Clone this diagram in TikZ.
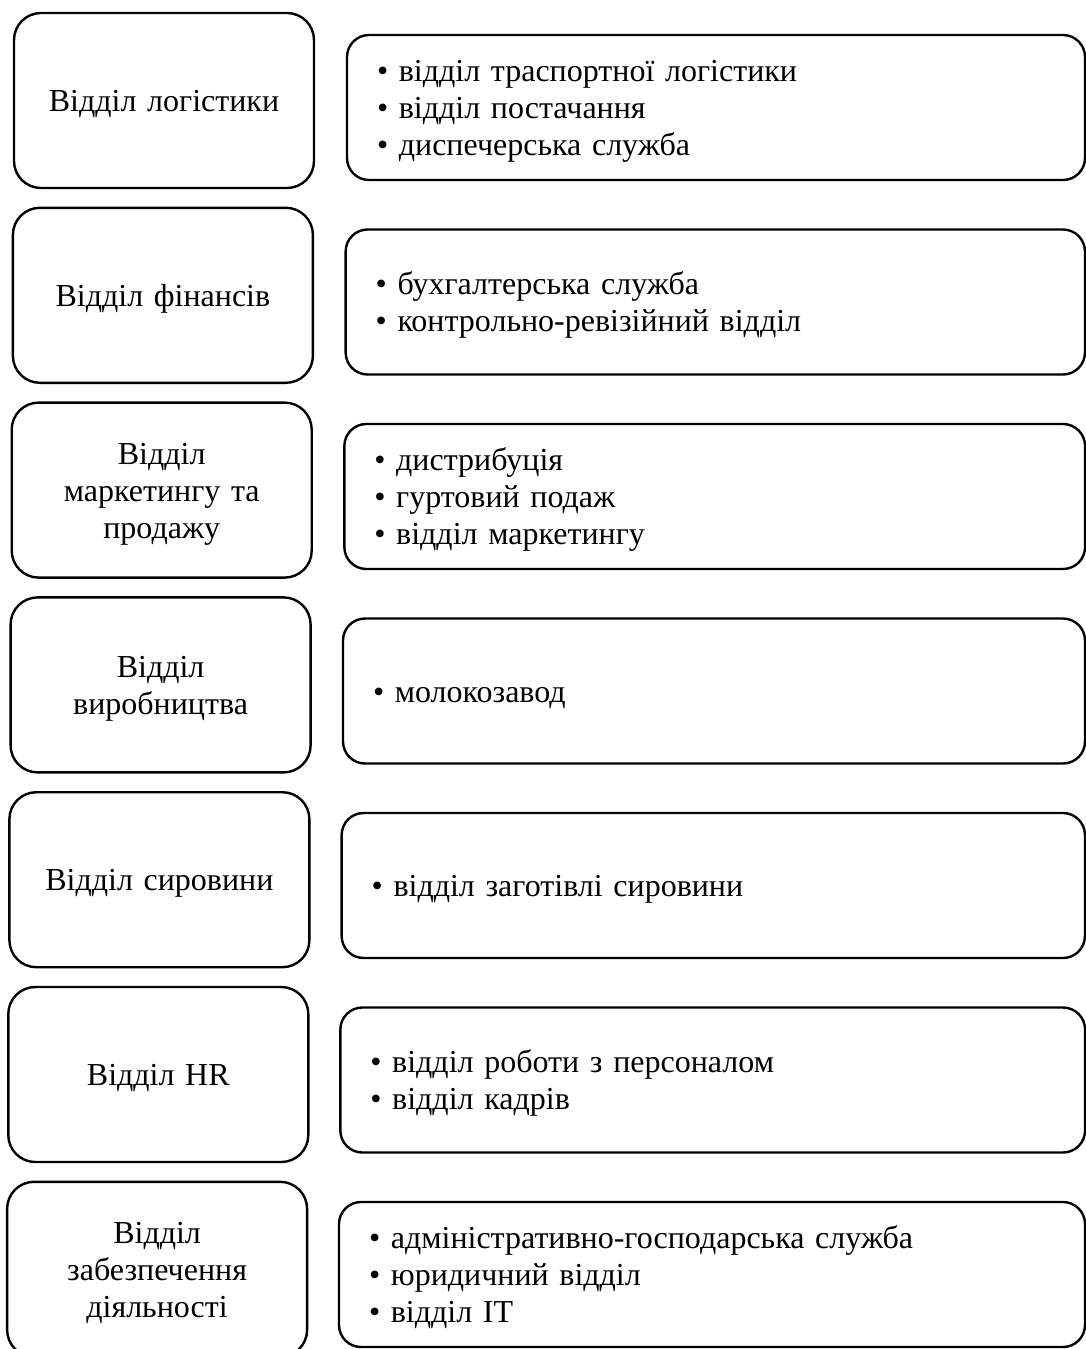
\documentclass[tikz,border=0pt]{standalone}
\usepackage{fontspec}
\setmainfont{Liberation Serif}
\usepackage{tikz}
\usetikzlibrary{positioning,calc}

\begin{document}
\begin{tikzpicture}[x=1pt, y=-1pt]
  % Define styles
  \tikzstyle{dept} = [rectangle, draw, line width=2.4pt, rounded corners=27pt, minimum width=300pt, minimum height=175pt, text width=270pt, align=center, inner sep=0pt, font=\fontsize{32}{37}\selectfont, execute at begin node={\rule{0pt}{29pt}}]
  \tikzstyle{units} = [rectangle, draw, line width=2.4pt, rounded corners=22pt, minimum height=145pt, align=left, inner xsep=30pt, inner ysep=0pt, font=\fontsize{32}{37}\selectfont, execute at begin node={\rule{0pt}{29pt}}]

  \useasboundingbox (0,0) rectangle (1085,1349);

  % Departments (left column)
  \node [dept] (logist) at (164,100.5) {Відділ логістики};
  \node [dept] (finance) at (162.9,295.3) {Відділ фінансів};
  \node [dept] (market) at (161.7,490.1) {Відділ\\маркетингу та\\продажу};
  \node [dept] (product) at (160.6,684.9) {Відділ\\виробництва};
  \node [dept] (rawmat) at (159.4,879.7) {Відділ сировини};
  \node [dept] (hr) at (158.3,1074.5) {Відділ HR};
  \node [dept] (support) at (157.1,1269.3) {Відділ\\забезпечення\\діяльності};

  % Sub-units (right column)
  \node [units, minimum width=738pt, text width=678pt] (logistsub) at (716,107.5) {
    • відділ траспортної логістики\\
    • відділ постачання\\
    • диспечерська служба
  };
  \node [units, minimum width=739.3pt, text width=679.3pt] (financesub) at (715.3,302) {
    • бухгалтерська служба\\
    • контрольно-ревізійний відділ
  };
  \node [units, minimum width=740.7pt, text width=680.7pt] (marketsub) at (714.7,496.5) {
    • дистрибуція\\
    • гуртовий подаж\\
    • відділ маркетингу
  };
  \node [units, minimum width=742pt, text width=682pt] (productsub) at (714,691) {
    • молокозавод
  };
  \node [units, minimum width=743.3pt, text width=683.3pt] (rawmatsub) at (713.3,885.5) {
    • відділ заготівлі сировини
  };
  \node [units, minimum width=744.7pt, text width=684.7pt] (hrsub) at (712.7,1080) {
    • відділ роботи з персоналом\\
    • відділ кадрів
  };
  \node [units, minimum width=746pt, text width=686pt] (supportsub) at (712,1274.5) {
    • адміністративно-господарська служба\\
    • юридичний відділ\\
    • відділ IT
  };

\end{tikzpicture}
\end{document}
